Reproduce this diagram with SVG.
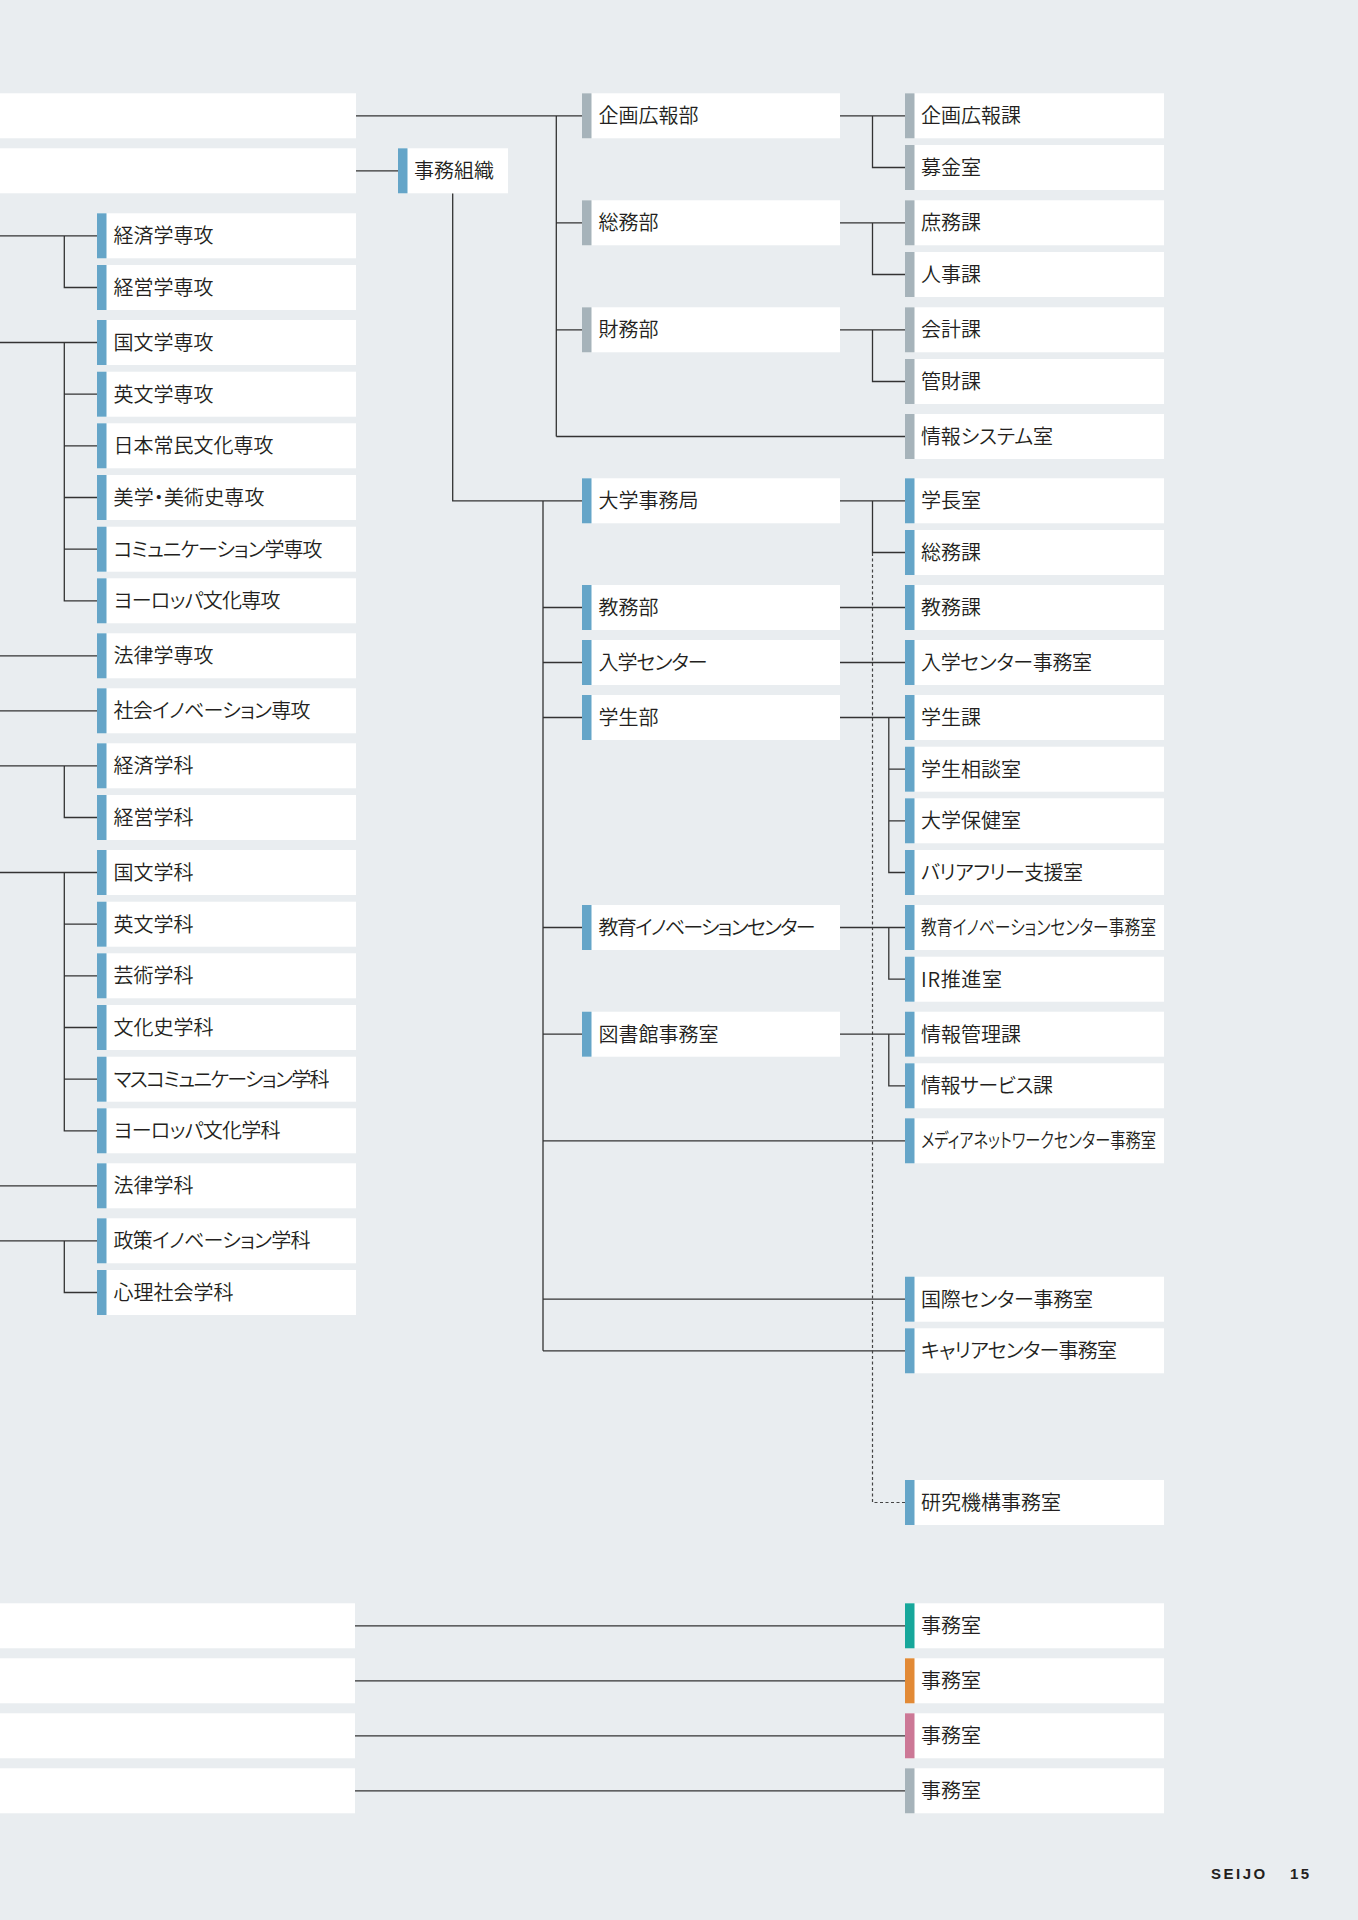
<svg xmlns="http://www.w3.org/2000/svg" width="1358" height="1920" viewBox="0 0 1358 1920">
<style>
.bg{fill:#e9edf0}
.box{fill:#ffffff}
.b{fill:#65a5c8}
.g{fill:#a6b3ba}
.t{font-family:"Noto Sans CJK JP","Noto Sans",sans-serif;font-size:20px;font-weight:350;fill:#231f20;font-feature-settings:"palt"}
.ln{stroke:#333333;stroke-width:1.3;fill:none}
.dl{stroke:#444444;stroke-width:1.2;fill:none;stroke-dasharray:3 2.5}
.foot{font-family:"Liberation Sans",Arial,sans-serif;font-size:15px;font-weight:bold;fill:#231f20;letter-spacing:2.5px}
</style>
<rect class="bg" x="0" y="0" width="1358" height="1920"/>

<g id="connectors">
<path class="ln" d="M356 115.8H582M556.3 115.8V436.5M556.3 222.8H582M556.3 329.8H582M556.3 436.5H905"/>
<path class="ln" d="M356 170.8H398"/>
<path class="ln" d="M452.7 193.3V500.8H582M543 500.8V1350.8M543 607.5H582M543 662.5H582M543 717.5H582M543 927.5H582M543 1034.2H582M543 1140.8H905M543 1299.2H905M543 1350.8H905"/>
<path class="ln" d="M840 115.8H905M872.5 115.8V167.5H905"/>
<path class="ln" d="M840 222.8H905M872.5 222.8V274.5H905"/>
<path class="ln" d="M840 329.8H905M872.5 329.8V381.5H905"/>
<path class="ln" d="M840 500.8H905M872.5 500.8V552.5H905"/>
<path class="dl" d="M872.5 553V1502.5H905"/>
<path class="ln" d="M840 607.5H905M840 662.5H905"/>
<path class="ln" d="M840 717.5H905M888.8 717.5V872.5H905M888.8 769.2H905M888.8 820.8H905"/>
<path class="ln" d="M840 927.5H905M888.8 927.5V979.2H905"/>
<path class="ln" d="M840 1034.2H905M888.8 1034.2V1085.8H905"/>
<path class="ln" d="M0 235.8H97M64.3 235.8V287.5H97"/>
<path class="ln" d="M0 342.5H97M64.3 342.5V600.8H97M64.3 394.2H97M64.3 445.8H97M64.3 497.5H97M64.3 549.2H97"/>
<path class="ln" d="M0 655.8H97M0 710.8H97"/>
<path class="ln" d="M0 765.8H97M64.3 765.8V817.5H97"/>
<path class="ln" d="M0 872.5H97M64.3 872.5V1130.8H97M64.3 924.2H97M64.3 975.8H97M64.3 1027.5H97M64.3 1079.2H97"/>
<path class="ln" d="M0 1185.8H97"/>
<path class="ln" d="M0 1240.8H97M64.3 1240.8V1292.5H97"/>
<path class="ln" d="M355 1625.8H905M355 1680.8H905M355 1735.8H905M355 1790.8H905"/>
</g>

<g id="n-top1"><rect class="box" x="0" y="93.3" width="356" height="45"/></g>
<g id="n-top2"><rect class="box" x="0" y="148.3" width="356" height="45"/></g>
<g id="n-jimu"><rect class="box" x="398" y="148.3" width="110" height="45"/><rect class="b" x="398" y="148.3" width="9.5" height="45"/><text class="t" x="414" y="178.4">事務組織</text></g>

<g id="n-l1"><rect class="box" x="97" y="213.3" width="259" height="45"/><rect class="b" x="97" y="213.3" width="9.5" height="45"/><text class="t" x="113.5" y="243.4">経済学専攻</text></g>
<g id="n-l2"><rect class="box" x="97" y="265" width="259" height="45"/><rect class="b" x="97" y="265" width="9.5" height="45"/><text class="t" x="113.5" y="295.1">経営学専攻</text></g>
<g id="n-l3"><rect class="box" x="97" y="320" width="259" height="45"/><rect class="b" x="97" y="320" width="9.5" height="45"/><text class="t" x="113.5" y="350.1">国文学専攻</text></g>
<g id="n-l4"><rect class="box" x="97" y="371.7" width="259" height="45"/><rect class="b" x="97" y="371.7" width="9.5" height="45"/><text class="t" x="113.5" y="401.8">英文学専攻</text></g>
<g id="n-l5"><rect class="box" x="97" y="423.3" width="259" height="45"/><rect class="b" x="97" y="423.3" width="9.5" height="45"/><text class="t" x="113.5" y="453.4">日本常民文化専攻</text></g>
<g id="n-l6"><rect class="box" x="97" y="475" width="259" height="45"/><rect class="b" x="97" y="475" width="9.5" height="45"/><text class="t" x="113.5" y="505.1" textLength="151">美学・美術史専攻</text></g>
<g id="n-l7"><rect class="box" x="97" y="526.7" width="259" height="45"/><rect class="b" x="97" y="526.7" width="9.5" height="45"/><text class="t" x="113.5" y="556.8" textLength="209">コミュニケーション学専攻</text></g>
<g id="n-l8"><rect class="box" x="97" y="578.3" width="259" height="45"/><rect class="b" x="97" y="578.3" width="9.5" height="45"/><text class="t" x="113.5" y="608.4" textLength="167">ヨーロッパ文化専攻</text></g>
<g id="n-l9"><rect class="box" x="97" y="633.3" width="259" height="45"/><rect class="b" x="97" y="633.3" width="9.5" height="45"/><text class="t" x="113.5" y="663.4">法律学専攻</text></g>
<g id="n-l10"><rect class="box" x="97" y="688.3" width="259" height="45"/><rect class="b" x="97" y="688.3" width="9.5" height="45"/><text class="t" x="113.5" y="718.4" textLength="197">社会イノベーション専攻</text></g>
<g id="n-l11"><rect class="box" x="97" y="743.3" width="259" height="45"/><rect class="b" x="97" y="743.3" width="9.5" height="45"/><text class="t" x="113.5" y="773.4">経済学科</text></g>
<g id="n-l12"><rect class="box" x="97" y="795" width="259" height="45"/><rect class="b" x="97" y="795" width="9.5" height="45"/><text class="t" x="113.5" y="825.1">経営学科</text></g>
<g id="n-l13"><rect class="box" x="97" y="850" width="259" height="45"/><rect class="b" x="97" y="850" width="9.5" height="45"/><text class="t" x="113.5" y="880.1">国文学科</text></g>
<g id="n-l14"><rect class="box" x="97" y="901.7" width="259" height="45"/><rect class="b" x="97" y="901.7" width="9.5" height="45"/><text class="t" x="113.5" y="931.8">英文学科</text></g>
<g id="n-l15"><rect class="box" x="97" y="953.3" width="259" height="45"/><rect class="b" x="97" y="953.3" width="9.5" height="45"/><text class="t" x="113.5" y="983.4">芸術学科</text></g>
<g id="n-l16"><rect class="box" x="97" y="1005" width="259" height="45"/><rect class="b" x="97" y="1005" width="9.5" height="45"/><text class="t" x="113.5" y="1035.1">文化史学科</text></g>
<g id="n-l17"><rect class="box" x="97" y="1056.7" width="259" height="45"/><rect class="b" x="97" y="1056.7" width="9.5" height="45"/><text class="t" x="113.5" y="1086.8" textLength="216">マスコミュニケーション学科</text></g>
<g id="n-l18"><rect class="box" x="97" y="1108.3" width="259" height="45"/><rect class="b" x="97" y="1108.3" width="9.5" height="45"/><text class="t" x="113.5" y="1138.4" textLength="167">ヨーロッパ文化学科</text></g>
<g id="n-l19"><rect class="box" x="97" y="1163.3" width="259" height="45"/><rect class="b" x="97" y="1163.3" width="9.5" height="45"/><text class="t" x="113.5" y="1193.4">法律学科</text></g>
<g id="n-l20"><rect class="box" x="97" y="1218.3" width="259" height="45"/><rect class="b" x="97" y="1218.3" width="9.5" height="45"/><text class="t" x="113.5" y="1248.4" textLength="197">政策イノベーション学科</text></g>
<g id="n-l21"><rect class="box" x="97" y="1270" width="259" height="45"/><rect class="b" x="97" y="1270" width="9.5" height="45"/><text class="t" x="113.5" y="1300.1">心理社会学科</text></g>

<g id="n-m1"><rect class="box" x="582" y="93.3" width="258" height="45"/><rect class="g" x="582" y="93.3" width="9.5" height="45"/><text class="t" x="598.5" y="123.4">企画広報部</text></g>
<g id="n-m2"><rect class="box" x="582" y="200.3" width="258" height="45"/><rect class="g" x="582" y="200.3" width="9.5" height="45"/><text class="t" x="598.5" y="230.4">総務部</text></g>
<g id="n-m3"><rect class="box" x="582" y="307.3" width="258" height="45"/><rect class="g" x="582" y="307.3" width="9.5" height="45"/><text class="t" x="598.5" y="337.4">財務部</text></g>
<g id="n-m4"><rect class="box" x="582" y="478.3" width="258" height="45"/><rect class="b" x="582" y="478.3" width="9.5" height="45"/><text class="t" x="598.5" y="508.4">大学事務局</text></g>
<g id="n-m5"><rect class="box" x="582" y="585" width="258" height="45"/><rect class="b" x="582" y="585" width="9.5" height="45"/><text class="t" x="598.5" y="615.1">教務部</text></g>
<g id="n-m6"><rect class="box" x="582" y="640" width="258" height="45"/><rect class="b" x="582" y="640" width="9.5" height="45"/><text class="t" x="598.5" y="670.1" textLength="109">入学センター</text></g>
<g id="n-m7"><rect class="box" x="582" y="695" width="258" height="45"/><rect class="b" x="582" y="695" width="9.5" height="45"/><text class="t" x="598.5" y="725.1">学生部</text></g>
<g id="n-m8"><rect class="box" x="582" y="905" width="258" height="45"/><rect class="b" x="582" y="905" width="9.5" height="45"/><text class="t" x="598.5" y="935.1" textLength="217">教育イノベーションセンター</text></g>
<g id="n-m9"><rect class="box" x="582" y="1011.7" width="258" height="45"/><rect class="b" x="582" y="1011.7" width="9.5" height="45"/><text class="t" x="598.5" y="1041.8">図書館事務室</text></g>

<g id="n-r1"><rect class="box" x="905" y="93.3" width="259" height="45"/><rect class="g" x="905" y="93.3" width="9.5" height="45"/><text class="t" x="921" y="123.4">企画広報課</text></g>
<g id="n-r2"><rect class="box" x="905" y="145" width="259" height="45"/><rect class="g" x="905" y="145" width="9.5" height="45"/><text class="t" x="921" y="175.1">募金室</text></g>
<g id="n-r3"><rect class="box" x="905" y="200.3" width="259" height="45"/><rect class="g" x="905" y="200.3" width="9.5" height="45"/><text class="t" x="921" y="230.4">庶務課</text></g>
<g id="n-r4"><rect class="box" x="905" y="252" width="259" height="45"/><rect class="g" x="905" y="252" width="9.5" height="45"/><text class="t" x="921" y="282.1">人事課</text></g>
<g id="n-r5"><rect class="box" x="905" y="307.3" width="259" height="45"/><rect class="g" x="905" y="307.3" width="9.5" height="45"/><text class="t" x="921" y="337.4">会計課</text></g>
<g id="n-r6"><rect class="box" x="905" y="359" width="259" height="45"/><rect class="g" x="905" y="359" width="9.5" height="45"/><text class="t" x="921" y="389.1">管財課</text></g>
<g id="n-r7"><rect class="box" x="905" y="414" width="259" height="45"/><rect class="g" x="905" y="414" width="9.5" height="45"/><text class="t" x="921" y="444.1" textLength="132">情報システム室</text></g>
<g id="n-r8"><rect class="box" x="905" y="478.3" width="259" height="45"/><rect class="b" x="905" y="478.3" width="9.5" height="45"/><text class="t" x="921" y="508.4">学長室</text></g>
<g id="n-r9"><rect class="box" x="905" y="530" width="259" height="45"/><rect class="b" x="905" y="530" width="9.5" height="45"/><text class="t" x="921" y="560.1">総務課</text></g>
<g id="n-r10"><rect class="box" x="905" y="585" width="259" height="45"/><rect class="b" x="905" y="585" width="9.5" height="45"/><text class="t" x="921" y="615.1">教務課</text></g>
<g id="n-r11"><rect class="box" x="905" y="640" width="259" height="45"/><rect class="b" x="905" y="640" width="9.5" height="45"/><text class="t" x="921" y="670.1" textLength="171">入学センター事務室</text></g>
<g id="n-r12"><rect class="box" x="905" y="695" width="259" height="45"/><rect class="b" x="905" y="695" width="9.5" height="45"/><text class="t" x="921" y="725.1">学生課</text></g>
<g id="n-r13"><rect class="box" x="905" y="746.7" width="259" height="45"/><rect class="b" x="905" y="746.7" width="9.5" height="45"/><text class="t" x="921" y="776.8">学生相談室</text></g>
<g id="n-r14"><rect class="box" x="905" y="798.3" width="259" height="45"/><rect class="b" x="905" y="798.3" width="9.5" height="45"/><text class="t" x="921" y="828.4">大学保健室</text></g>
<g id="n-r15"><rect class="box" x="905" y="850" width="259" height="45"/><rect class="b" x="905" y="850" width="9.5" height="45"/><text class="t" x="921" y="880.1" textLength="162">バリアフリー支援室</text></g>
<g id="n-r16"><rect class="box" x="905" y="905" width="259" height="45"/><rect class="b" x="905" y="905" width="9.5" height="45"/><text class="t" x="921" y="935.1" textLength="235" lengthAdjust="spacingAndGlyphs">教育イノベーションセンター事務室</text></g>
<g id="n-r17"><rect class="box" x="905" y="956.7" width="259" height="45"/><rect class="b" x="905" y="956.7" width="9.5" height="45"/><text class="t" x="921" y="986.8" textLength="81">IR推進室</text></g>
<g id="n-r18"><rect class="box" x="905" y="1011.7" width="259" height="45"/><rect class="b" x="905" y="1011.7" width="9.5" height="45"/><text class="t" x="921" y="1041.8">情報管理課</text></g>
<g id="n-r19"><rect class="box" x="905" y="1063.3" width="259" height="45"/><rect class="b" x="905" y="1063.3" width="9.5" height="45"/><text class="t" x="921" y="1093.4" textLength="132">情報サービス課</text></g>
<g id="n-r20"><rect class="box" x="905" y="1118.3" width="259" height="45"/><rect class="b" x="905" y="1118.3" width="9.5" height="45"/><text class="t" x="921" y="1148.4" textLength="235" lengthAdjust="spacingAndGlyphs">メディアネットワークセンター事務室</text></g>
<g id="n-r21"><rect class="box" x="905" y="1276.7" width="259" height="45"/><rect class="b" x="905" y="1276.7" width="9.5" height="45"/><text class="t" x="921" y="1306.8" textLength="172">国際センター事務室</text></g>
<g id="n-r22"><rect class="box" x="905" y="1328.3" width="259" height="45"/><rect class="b" x="905" y="1328.3" width="9.5" height="45"/><text class="t" x="921" y="1358.4" textLength="196">キャリアセンター事務室</text></g>
<g id="n-r23"><rect class="box" x="905" y="1480" width="259" height="45"/><rect class="b" x="905" y="1480" width="9.5" height="45"/><text class="t" x="921" y="1510.1">研究機構事務室</text></g>

<g id="n-bl1"><rect class="box" x="0" y="1603.3" width="355" height="45"/></g>
<g id="n-bl2"><rect class="box" x="0" y="1658.3" width="355" height="45"/></g>
<g id="n-bl3"><rect class="box" x="0" y="1713.3" width="355" height="45"/></g>
<g id="n-bl4"><rect class="box" x="0" y="1768.3" width="355" height="45"/></g>
<g id="n-br1"><rect class="box" x="905" y="1603.3" width="259" height="45"/><rect fill="#17a79b" x="905" y="1603.3" width="9.5" height="45"/><text class="t" x="921" y="1633.4">事務室</text></g>
<g id="n-br2"><rect class="box" x="905" y="1658.3" width="259" height="45"/><rect fill="#e28a36" x="905" y="1658.3" width="9.5" height="45"/><text class="t" x="921" y="1688.4">事務室</text></g>
<g id="n-br3"><rect class="box" x="905" y="1713.3" width="259" height="45"/><rect fill="#cc7896" x="905" y="1713.3" width="9.5" height="45"/><text class="t" x="921" y="1743.4">事務室</text></g>
<g id="n-br4"><rect class="box" x="905" y="1768.3" width="259" height="45"/><rect class="g" x="905" y="1768.3" width="9.5" height="45"/><text class="t" x="921" y="1798.4">事務室</text></g>

<text class="foot" y="1879"><tspan x="1211">SEIJO</tspan><tspan x="1290">15</tspan></text>
</svg>
